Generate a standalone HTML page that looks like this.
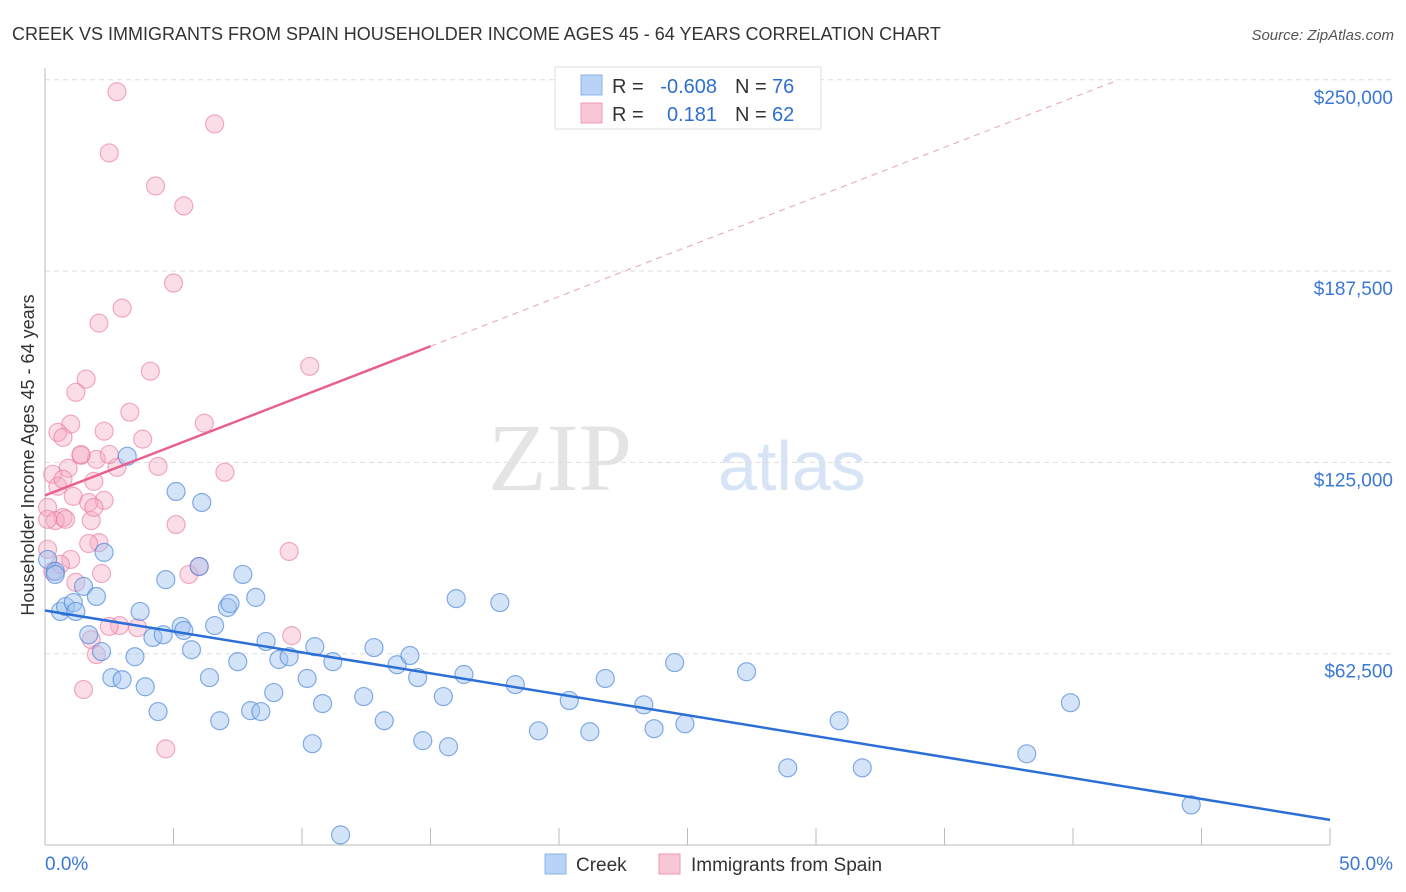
<!DOCTYPE html>
<html><head><meta charset="utf-8"><style>
body{margin:0;background:#fff;font-family:"Liberation Sans",sans-serif;}
svg{display:block}
</style></head><body>
<svg id="chart" width="1406" height="892">
<text x="12" y="40" font-size="18" fill="#333">CREEK VS IMMIGRANTS FROM SPAIN HOUSEHOLDER INCOME AGES 45 - 64 YEARS CORRELATION CHART</text>
<text x="1394" y="40" font-size="15" fill="#555" text-anchor="end" font-style="italic">Source: ZipAtlas.com</text>
<text x="632" y="490" font-size="96" fill="#e4e4e4" text-anchor="end" font-family="Liberation Serif,serif">ZIP</text>
<text x="718" y="490" font-size="70" fill="#d6e4f5">atlas</text>
<g id="grid"></g>
<g id="marks"></g>
<text transform="translate(34,455) rotate(-90)" font-size="18" fill="#333" text-anchor="middle">Householder Income Ages 45 - 64 years</text>
<g>
<rect x="555" y="67" width="266" height="62" fill="#fff" stroke="#ddd"/>
<rect x="581" y="75" width="21" height="20" fill="#b8d3f5" stroke="#8bb3e8"/>
<rect x="581" y="103" width="21" height="20" fill="#f9c6d6" stroke="#f09ab5"/>
<text x="612" y="93" font-size="20" fill="#333">R =</text>
<text x="717" y="93" font-size="20" fill="#2f6fd0" text-anchor="end">-0.608</text>
<text x="735" y="93" font-size="20" fill="#333">N =</text>
<text x="772" y="93" font-size="20" fill="#2f6fd0">76</text>
<text x="612" y="121" font-size="20" fill="#333">R =</text>
<text x="717" y="121" font-size="20" fill="#2f6fd0" text-anchor="end">0.181</text>
<text x="735" y="121" font-size="20" fill="#333">N =</text>
<text x="772" y="121" font-size="20" fill="#2f6fd0">62</text>
</g>
<g>
<rect x="545" y="854" width="21" height="20" fill="#b8d3f5" stroke="#8bb3e8"/>
<text x="576" y="871" font-size="19" fill="#333">Creek</text>
<rect x="659" y="854" width="21" height="20" fill="#f9c6d6" stroke="#f09ab5"/>
<text x="691" y="871" font-size="19" fill="#333">Immigrants from Spain</text>
</g>
</svg>
<script>
const yTicks=[62500,125000,187500,250000];
const yTickLabels=["$62,500","$125,000","$187,500","$250,000"];
const creekX=[0.1,0.4,0.6,0.8,1.1,1.2,1.5,1.7,2.0,2.2,2.3,2.6,3.0,3.2,3.5,3.7,3.9,4.2,4.4,4.6,4.7,5.1,5.3,5.4,5.7,6.0,6.1,6.4,6.6,6.8,7.1,7.2,7.5,7.7,8.0,8.2,8.4,8.6,8.9,9.1,9.5,10.2,10.4,10.5,10.8,11.2,11.5,12.4,12.8,13.2,13.7,14.2,14.5,14.7,15.5,15.7,16.0,16.3,17.7,18.3,19.2,20.4,21.2,21.8,23.3,23.7,24.5,24.9,27.3,28.9,30.9,31.8,38.2,39.9,44.6,0.4];
const creekY=[93.3,89.4,76.3,77.9,79.2,76.3,84.5,68.7,81.2,63.2,95.6,54.7,54.0,127.0,61.5,76.3,51.7,67.8,43.6,68.7,86.7,115.5,71.4,70.1,63.8,91.0,111.9,54.7,71.7,40.6,77.6,78.9,59.9,88.4,43.9,80.9,43.6,66.5,49.8,60.6,61.5,54.4,33.1,64.8,46.2,59.9,3.3,48.5,64.5,40.6,58.9,61.9,54.7,34.1,48.5,32.1,80.5,55.7,79.2,52.4,37.3,47.2,37.0,54.4,45.8,38.0,59.6,39.6,56.6,25.2,40.6,25.2,29.8,46.5,13.1,88.4];
const spainX=[2.8,6.6,2.5,4.3,5.4,5.0,3.0,2.1,10.3,4.1,1.6,1.2,3.3,1.0,6.2,0.5,2.3,3.8,0.7,1.4,2.0,4.4,2.8,0.9,7.0,0.3,1.9,0.5,1.1,2.3,1.7,0.1,0.7,0.4,1.8,5.1,0.1,2.1,1.7,9.5,1.0,0.1,0.3,2.2,5.6,6.0,1.2,2.9,3.6,2.5,9.6,1.8,2.0,1.5,4.7,0.6,0.7,1.4,2.5,0.8,1.9];
const spainY=[246.1,235.6,226.1,215.3,208.8,183.6,175.4,170.5,156.4,154.8,152.2,147.9,141.4,137.5,137.8,134.8,135.2,132.6,133.2,127.3,126.0,123.7,123.4,123.1,121.8,121.1,118.8,117.2,113.9,112.6,111.9,110.3,107.0,106.0,106.0,104.7,106.4,98.8,98.5,95.9,93.3,96.6,89.4,88.7,88.4,91.0,85.8,71.7,71.0,71.4,68.4,67.1,62.2,50.8,31.4,91.7,119.5,127.6,127.6,106.4,110.3];
const creekTrend=[76.6,8.2];
const spainTrend=[114.2,3.25];
const NS="http://www.w3.org/2000/svg";
const xs=p=>45+p*25.7;
const ys=v=>845-v*1000*191.3/62500;
function mk(tag,attrs,parent){const e=document.createElementNS(NS,tag);for(const k in attrs)e.setAttribute(k,attrs[k]);parent.appendChild(e);return e;}
const grid=document.getElementById('grid'),marks=document.getElementById('marks');
yTicks.forEach((t,i)=>{const y=ys(t/1000);
const l=mk('line',{x1:45,x2:1395,y1:y,y2:y,stroke:'#ddd','stroke-dasharray':'5,4'},grid);


const tx=mk('text',{x:1393,y:y+24,'font-size':19,fill:'#3a78d6','text-anchor':'end'},grid);tx.textContent=yTickLabels[i];

});
const ax=mk('line',{x1:45,x2:1330,y1:845,y2:845,stroke:'#bbb'},grid);


const ay=mk('line',{x1:45,x2:45,y1:68,y2:845,stroke:'#bbb'},grid);


for(let p=0;p<=50;p+=5){const t=mk('line',{x1:xs(p),x2:xs(p),y1:828,y2:845,stroke:'#bbb'},grid);

}
const xl0=mk('text',{x:45,y:870,'font-size':19,fill:'#3a78d6'},grid);xl0.textContent='0.0%';


const xl1=mk('text',{x:1393,y:870,'font-size':19,fill:'#3a78d6','text-anchor':'end'},grid);xl1.textContent='50.0%';


spainX.forEach((x,i)=>{const c=mk('circle',{cx:xs(x),cy:ys(spainY[i]),r:9,fill:'rgba(246,170,195,0.4)',stroke:'rgba(232,120,160,0.6)','stroke-width':1.2},marks);

});
creekX.forEach((x,i)=>{const c=mk('circle',{cx:xs(x),cy:ys(creekY[i]),r:9,fill:'rgba(160,195,240,0.45)',stroke:'rgba(70,130,215,0.65)','stroke-width':1.2},marks);

});
const bl=mk('line',{x1:xs(0),y1:ys(creekTrend[0]),x2:xs(50),y2:ys(creekTrend[1]),stroke:'#2b6fd6','stroke-width':2.5},marks);


const pl=mk('line',{x1:xs(0),y1:ys(spainTrend[0]),x2:xs(15),y2:ys(spainTrend[0]+15*spainTrend[1]),stroke:'#e8608e','stroke-width':2.5},marks);


const pd=mk('line',{x1:xs(15),y1:ys(spainTrend[0]+15*spainTrend[1]),x2:xs(41.6),y2:ys(spainTrend[0]+41.6*spainTrend[1]),stroke:'#e8a0b8','stroke-width':1,'stroke-dasharray':'6,5'},marks);


</script>
</body></html>
